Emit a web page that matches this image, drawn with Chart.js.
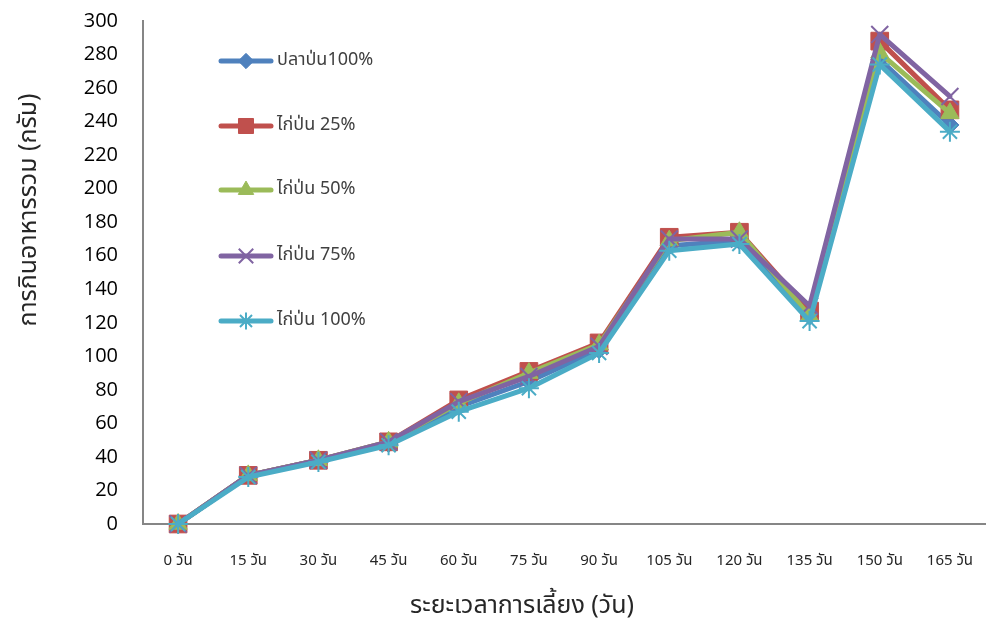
<!DOCTYPE html>
<html>
<head>
<meta charset="utf-8">
<script src="https://cdn.jsdelivr.net/npm/chart.js@4.4.1/dist/chart.umd.min.js"></script>
<style>
  html, body { margin: 0; padding: 0; background: #ffffff; }
  #wrap { width: 987px; height: 630px; position: relative; }
</style>
</head>
<body>
<div id="wrap"><canvas id="chart" width="987" height="630"></canvas></div>
<script>
// Feeding period (days) on the x axis
const categories = ['0 วัน', '15 วัน', '30 วัน', '45 วัน', '60 วัน', '75 วัน', '90 วัน', '105 วัน', '120 วัน', '135 วัน', '150 วัน', '165 วัน'];

// Cumulative feed intake (g) per diet
const fishMeal100 = [0, 29, 38, 48, 70, 85, 104, 166, 169, 124, 277, 238];
const chicken25   = [0, 29, 38, 49, 74, 91, 108, 171, 174, 127, 288, 247];
const chicken50   = [0, 29, 38, 49, 72, 90, 107, 169, 174, 124, 281, 245];
const chicken75   = [0, 29, 38, 49, 73, 88, 106, 170, 170, 130, 292, 255];
const chicken100  = [0, 28, 37, 47, 67, 81, 102, 163, 167, 121, 274, 234];

const seriesNames = ['ปลาป่น100%', 'ไก่ป่น 25%', 'ไก่ป่น 50%', 'ไก่ป่น 75%', 'ไก่ป่น 100%'];

const yTicks = [0, 20, 40, 60, 80, 100, 120, 140, 160, 180, 200, 220, 240, 260, 280, 300];

const xTitle = 'ระยะเวลาการเลี้ยง (วัน)';
const yTitle = 'การกินอาหารรวม (กรัม)';

const thaiFont = '"Noto Sans Thai", "Noto Sans", "DejaVu Sans", sans-serif';
const numFont = '"Open Sans", "Liberation Sans", sans-serif';

const styles = [
  { color: '#4F81BD', pointStyle: 'rectRot',  radius: 9,  fill: true },
  { color: '#C0504D', pointStyle: 'rect',     radius: 12.5, fill: true },
  { color: '#9BBB59', pointStyle: 'triangle', radius: 10.5, fill: true },
  { color: '#8064A2', pointStyle: 'crossRot', radius: 12, fill: false },
  { color: '#4BACC6', pointStyle: 'star',     radius: 10, fill: false }
];

const seriesData = [fishMeal100, chicken25, chicken50, chicken75, chicken100];

const datasets = seriesData.map((vals, i) => {
  const s = styles[i];
  return {
    label: seriesNames[i],
    data: vals,
    borderColor: s.color,
    backgroundColor: s.color,
    borderWidth: 5,
    borderCapStyle: 'round',
    borderJoinStyle: 'round',
    pointStyle: s.pointStyle,
    pointRadius: s.radius,
    pointHoverRadius: s.radius,
    pointBackgroundColor: s.color,
    pointBorderColor: s.color,
    pointBorderWidth: s.fill ? 1 : 2,
    tension: 0,
    clip: false,
    // later series are drawn above earlier ones
    order: seriesData.length - 1 - i
  };
});

// Legend drawn inside the plot, one entry per row
const insideLegend = {
  id: 'insideLegend',
  afterDraw(chart) {
    const ctx = chart.ctx;
    const x0 = 221, x1 = 271, textX = 277;
    const rows = [61, 126, 190, 256, 321];
    ctx.save();
    datasets.forEach((ds, i) => {
      const y = rows[i];
      ctx.strokeStyle = ds.borderColor;
      ctx.lineWidth = 5;
      ctx.lineCap = 'round';
      ctx.beginPath();
      ctx.moveTo(x0, y);
      ctx.lineTo(x1, y);
      ctx.stroke();
      ctx.fillStyle = ds.pointBackgroundColor;
      ctx.strokeStyle = ds.pointBorderColor;
      ctx.lineWidth = ds.pointBorderWidth;
      ctx.lineCap = 'butt';
      Chart.helpers.drawPoint(ctx, {
        pointStyle: ds.pointStyle,
        radius: ds.pointRadius * 0.85,
        borderWidth: ds.pointBorderWidth,
        rotation: 0
      }, (x0 + x1) / 2, y);
      ctx.fillStyle = '#404040';
      ctx.font = '18px ' + thaiFont;
      ctx.textAlign = 'left';
      ctx.textBaseline = 'middle';
      ctx.fillText(ds.label, textX, y);
    });
    ctx.restore();
  }
};

// Axis titles placed beside the axes
const axisTitles = {
  id: 'axisTitles',
  afterDraw(chart) {
    const ctx = chart.ctx;
    ctx.save();
    ctx.fillStyle = '#262626';
    ctx.font = '25px ' + thaiFont;
    ctx.textAlign = 'center';
    ctx.textBaseline = 'middle';
    ctx.fillText(xTitle, 522, 608);
    ctx.translate(31, 210);
    ctx.rotate(-Math.PI / 2);
    ctx.fillText(yTitle, 0, 0);
    ctx.restore();
  }
};

new Chart(document.getElementById('chart'), {
  type: 'line',
  data: { labels: categories, datasets: datasets },
  options: {
    responsive: false,
    animation: false,
    events: [],
    layout: { autoPadding: false, padding: { top: 21, right: 2, left: 0, bottom: 0 } },
    plugins: {
      legend: { display: false },
      tooltip: { enabled: false },
      title: { display: false }
    },
    scales: {
      x: {
        offset: true,
        grid: { drawOnChartArea: false, drawTicks: false },
        border: { display: true, color: '#868686', width: 2 },
        ticks: {
          color: '#262626',
          font: { family: thaiFont, size: 15 },
          padding: 29,
          maxRotation: 0,
          autoSkip: false
        },
        afterFit(scale) {
          scale.height = 106;
          scale.paddingLeft = 0;
          scale.paddingRight = 0;
        }
      },
      y: {
        min: 0,
        max: 300,
        afterBuildTicks(scale) { scale.ticks = yTicks.map(v => ({ value: v })); },
        grid: { drawOnChartArea: false, drawTicks: false },
        border: { display: true, color: '#868686', width: 2 },
        ticks: {
          color: '#000000',
          font: { family: numFont, size: 20 },
          padding: 25
        },
        afterFit(scale) {
          scale.width = 143;
          scale.paddingTop = 0;
          scale.paddingBottom = 0;
        }
      }
    }
  },
  plugins: [insideLegend, axisTitles]
});
</script>
</body>
</html>
